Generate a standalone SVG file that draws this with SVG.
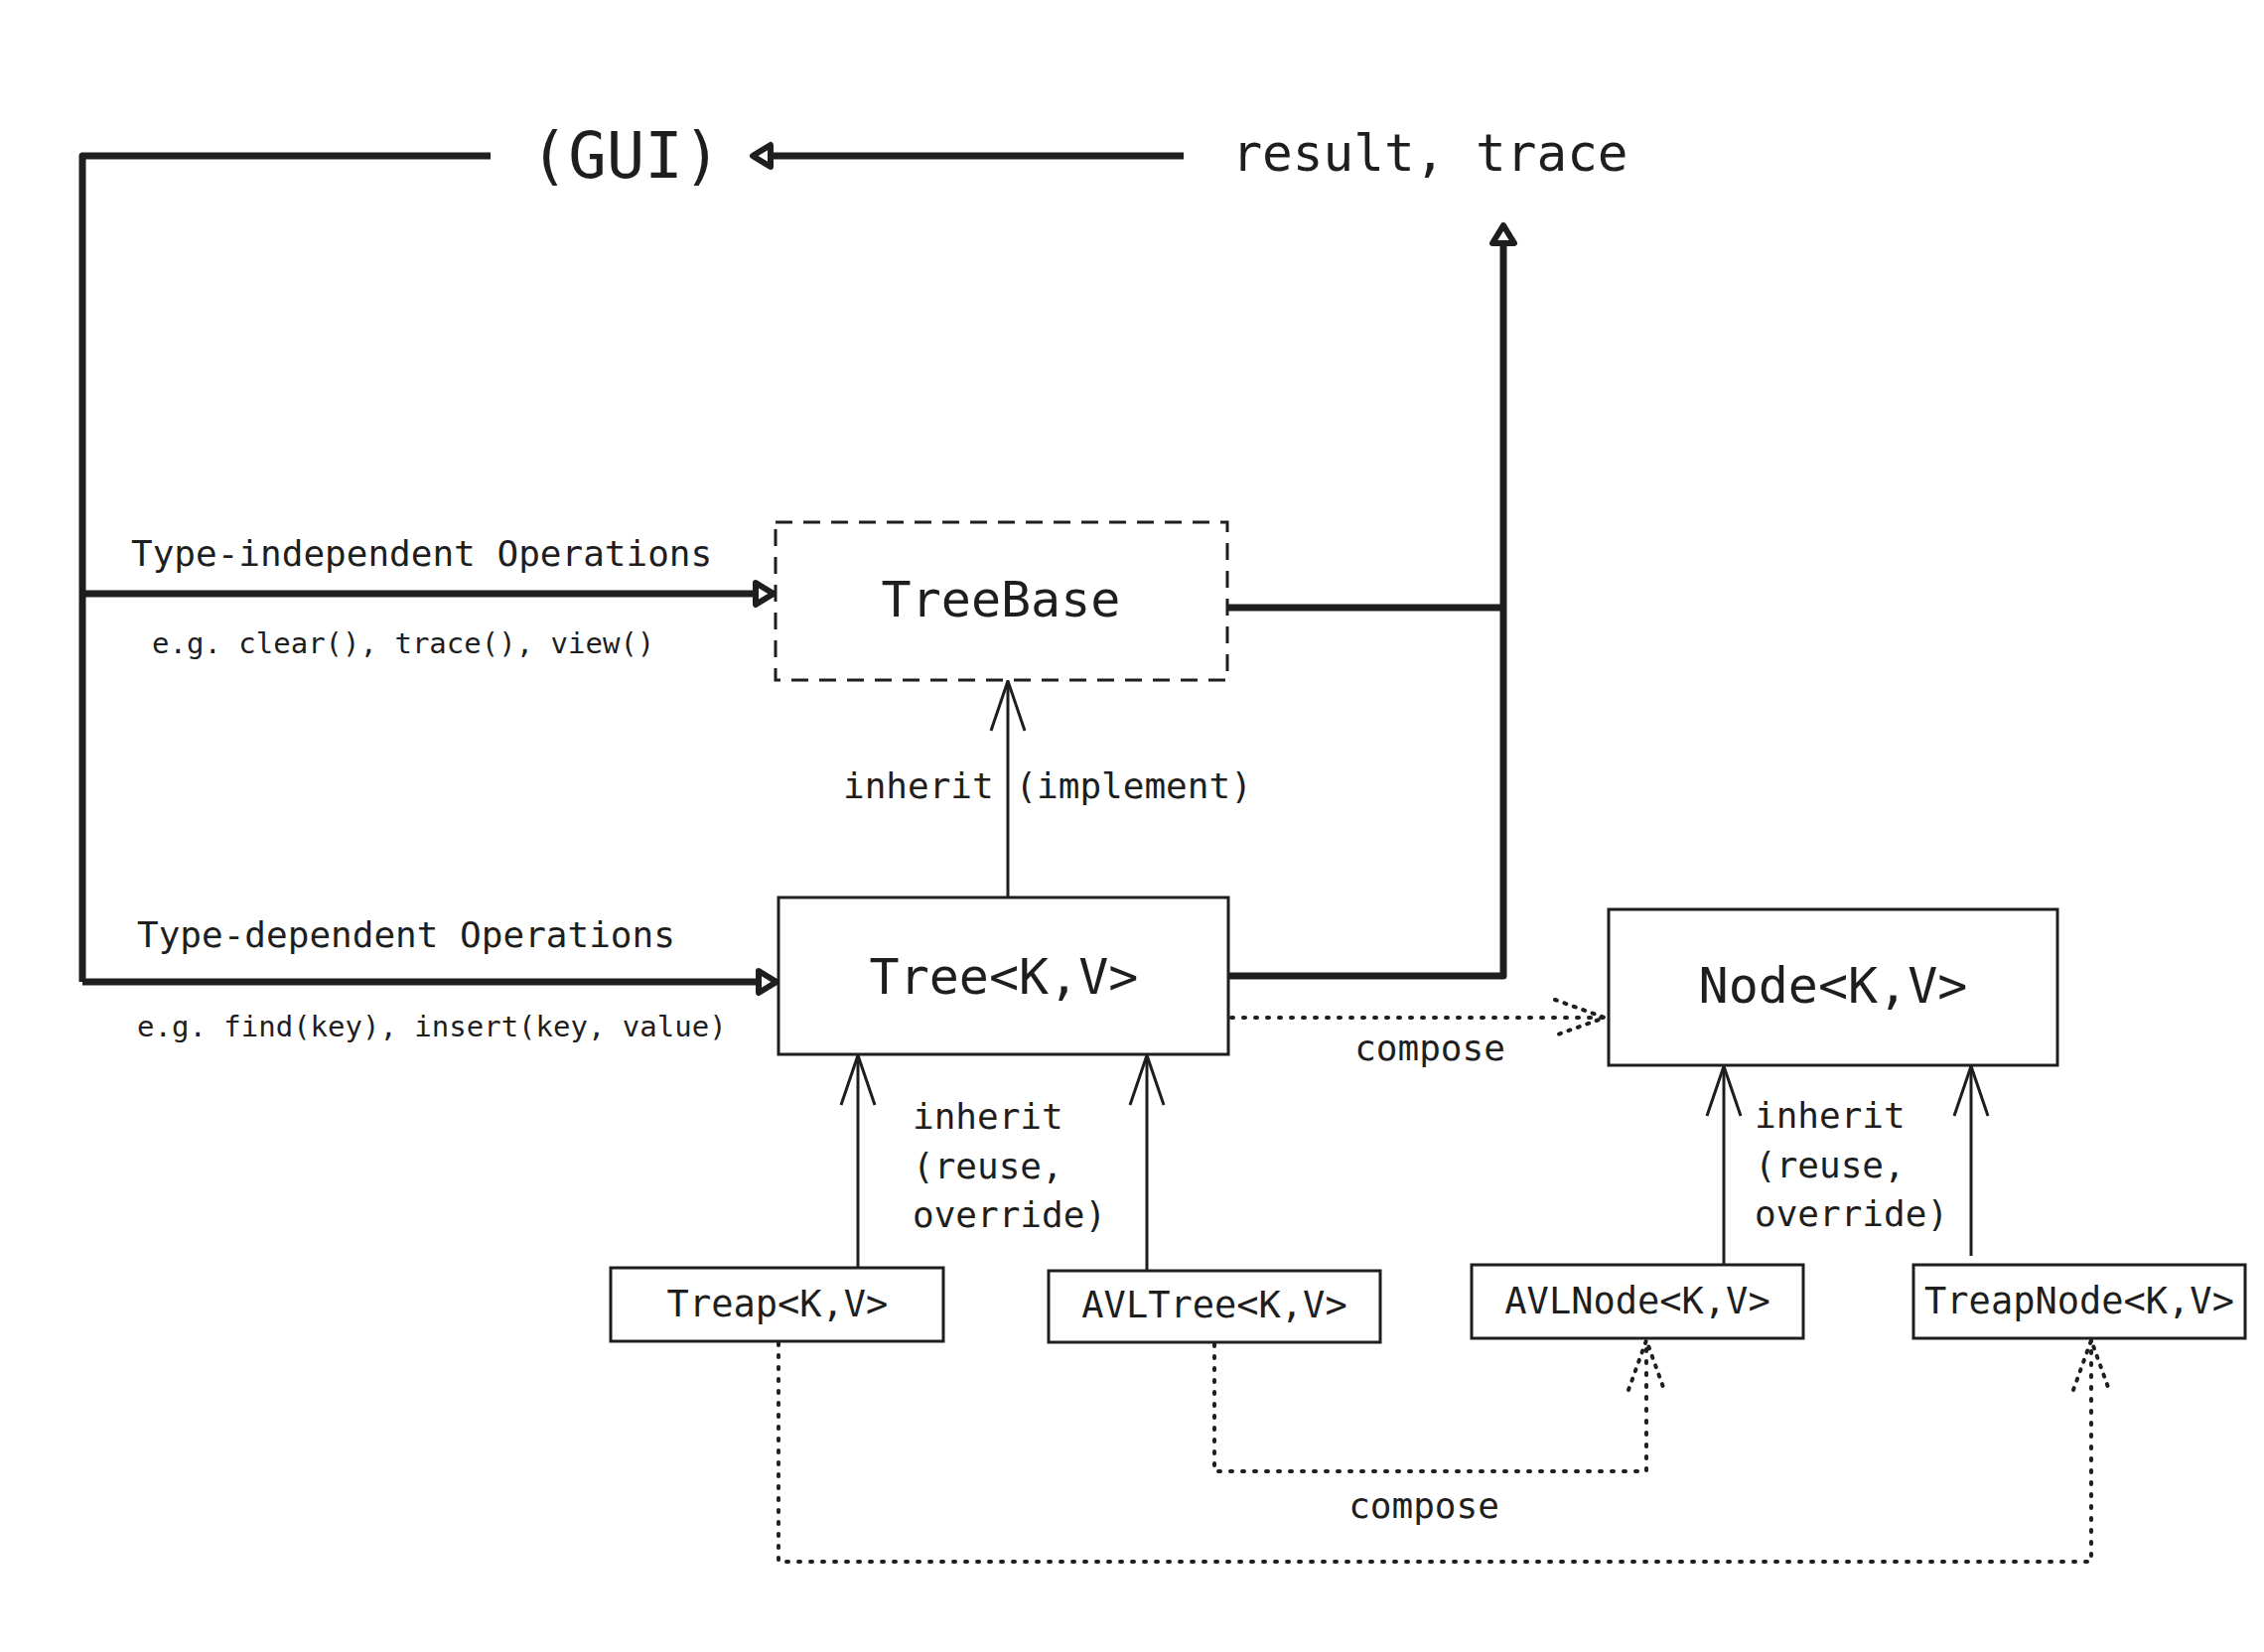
<svg xmlns="http://www.w3.org/2000/svg" width="2280" height="1664" viewBox="0 0 2280 1664">
<style>
.t{font-family:"DejaVu Sans Mono","Liberation Mono",monospace;fill:#1e1e1e}
.box{fill:#ffffff;stroke:#1e1e1e;stroke-width:3}
.dash{fill:#ffffff;stroke:#1e1e1e;stroke-width:3;stroke-dasharray:17 11}
.thick{fill:none;stroke:#1e1e1e;stroke-width:7;stroke-linejoin:round}
.thin{fill:none;stroke:#1e1e1e;stroke-width:3}
.dot{fill:none;stroke:#1e1e1e;stroke-width:4;stroke-dasharray:2 10;stroke-linecap:round}
</style>
<defs>
<marker id="tri" markerUnits="userSpaceOnUse" viewBox="-4 -4 30 30" refX="20" refY="11" markerWidth="30" markerHeight="30" orient="auto" overflow="visible">
<path d="M2,0 L20,11 L2,22 Z" fill="#ffffff" stroke="#1e1e1e" stroke-width="6" stroke-linejoin="round"/>
</marker>
<marker id="vee" markerUnits="userSpaceOnUse" viewBox="0 0 52 36" refX="50" refY="18" markerWidth="52" markerHeight="36" orient="auto" overflow="visible">
<path d="M0,1 L50,18 L0,35" fill="none" stroke="#1e1e1e" stroke-width="3"/>
</marker>
<marker id="dvee" markerUnits="userSpaceOnUse" viewBox="0 0 52 40" refX="50" refY="20" markerWidth="52" markerHeight="40" orient="auto" overflow="visible">
<path d="M0,2 L50,20 L0,38" fill="none" stroke="#1e1e1e" stroke-width="4" stroke-dasharray="2 8" stroke-linecap="round"/>
</marker>
</defs>
<rect width="2280" height="1664" fill="#ffffff"/>

<g id="connectors">
<path class="thick" d="M494,157 H83 V989"/>
<path class="thick" d="M1192,157 H758" marker-end="url(#tri)"/>
<path class="thick" d="M83,598 H779" marker-end="url(#tri)"/>
<path class="thick" d="M83,989 H782" marker-end="url(#tri)"/>
<path class="thick" d="M1236,612 H1514"/>
<path class="thick" d="M1237,983 H1514 V227" marker-end="url(#tri)"/>
<path class="thin" d="M1015,904 V686" marker-end="url(#vee)"/>
<path class="thin" d="M864,1277 V1063" marker-end="url(#vee)"/>
<path class="thin" d="M1155,1280 V1063" marker-end="url(#vee)"/>
<path class="thin" d="M1736,1274 V1074" marker-end="url(#vee)"/>
<path class="thin" d="M1985,1265 V1074" marker-end="url(#vee)"/>
<path class="dot" d="M1240,1025 H1616" marker-end="url(#dvee)"/>
<path class="dot" d="M1223,1354 V1482 H1658 V1350" marker-end="url(#dvee)"/>
<path class="dot" d="M784,1353 V1573 H2106 V1350" marker-end="url(#dvee)"/>
</g>

<g id="gui">
<text class="t" x="630" y="179" font-size="64" text-anchor="middle">(GUI)</text>
</g>
<g id="result-trace">
<text class="t" x="1440" y="172" font-size="51" text-anchor="middle">result, trace</text>
</g>

<g id="labels">
<text class="t" x="132" y="570" font-size="36">Type-independent Operations</text>
<text class="t" x="153" y="658" font-size="29">e.g. clear(), trace(), view()</text>
<text class="t" x="138" y="954" font-size="36">Type-dependent Operations</text>
<text class="t" x="138" y="1044" font-size="29">e.g. find(key), insert(key, value)</text>
<text class="t" x="849" y="804" font-size="36">inherit (implement)</text>
<text class="t" x="1440" y="1068" font-size="36" text-anchor="middle">compose</text>
<text class="t" x="919" y="1137" font-size="36">inherit</text>
<text class="t" x="919" y="1187" font-size="36">(reuse,</text>
<text class="t" x="919" y="1236" font-size="36">override)</text>
<text class="t" x="1767" y="1136" font-size="36">inherit</text>
<text class="t" x="1767" y="1186" font-size="36">(reuse,</text>
<text class="t" x="1767" y="1235" font-size="36">override)</text>
<text class="t" x="1434" y="1529" font-size="36" text-anchor="middle">compose</text>
</g>

<g id="treebase">
<rect class="dash" x="781" y="526" width="455" height="159"/>
<text class="t" x="1008" y="621" font-size="50" text-anchor="middle">TreeBase</text>
</g>
<g id="tree">
<rect class="box" x="784" y="904" width="453" height="158"/>
<text class="t" x="1011" y="1001" font-size="50" text-anchor="middle">Tree&lt;K,V&gt;</text>
</g>
<g id="node">
<rect class="box" x="1620" y="916" width="452" height="157"/>
<text class="t" x="1846" y="1010" font-size="50" text-anchor="middle">Node&lt;K,V&gt;</text>
</g>
<g id="treap">
<rect class="box" x="615" y="1277" width="335" height="74"/>
<text class="t" x="783" y="1326" font-size="37" text-anchor="middle">Treap&lt;K,V&gt;</text>
</g>
<g id="avltree">
<rect class="box" x="1056" y="1280" width="334" height="72"/>
<text class="t" x="1223" y="1327" font-size="37" text-anchor="middle">AVLTree&lt;K,V&gt;</text>
</g>
<g id="avlnode">
<rect class="box" x="1482" y="1274" width="334" height="74"/>
<text class="t" x="1649" y="1323" font-size="37" text-anchor="middle">AVLNode&lt;K,V&gt;</text>
</g>
<g id="treapnode">
<rect class="box" x="1927" y="1274" width="334" height="74"/>
<text class="t" x="2094" y="1323" font-size="37" text-anchor="middle">TreapNode&lt;K,V&gt;</text>
</g>
</svg>
